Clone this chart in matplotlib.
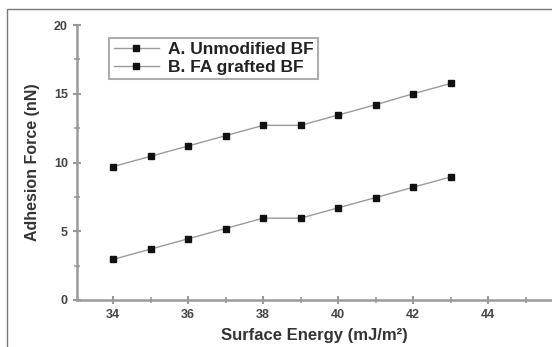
import matplotlib.pyplot as plt
from matplotlib.patches import Rectangle
from matplotlib.ticker import MultipleLocator

plt.rcParams['font.family'] = ['Liberation Sans', 'DejaVu Sans']
plt.rcParams['font.weight'] = 'bold'

# Datos
energia = [34, 35, 36, 37, 38, 39, 40, 41, 42, 43]
fuerza_a = [9.7, 10.45, 11.2, 11.95, 12.7, 12.7, 13.45, 14.2, 15.0, 15.75]
fuerza_b = [2.95, 3.7, 4.45, 5.2, 5.95, 5.95, 6.7, 7.45, 8.2, 8.95]
etiquetas = ["A. Unmodified BF", "B. FA grafted BF"]

fig = plt.figure(figsize=(5.52, 3.47), dpi=100)
ax = fig.add_axes([77 / 552, 47 / 347, 475 / 552, 275 / 347])

gris = "#9a9a9a"
ax.plot(energia, fuerza_a, color=gris, lw=1, marker="s", ms=4,
        mfc="#111111", mec="#111111", label=etiquetas[0])
ax.plot(energia, fuerza_b, color=gris, lw=1, marker="s", ms=4,
        mfc="#111111", mec="#111111", label=etiquetas[1])

ax.set_xlim(33.04, 45.7)
ax.set_ylim(0, 20)
ax.xaxis.set_major_locator(MultipleLocator(2))
ax.xaxis.set_minor_locator(MultipleLocator(1))
ax.yaxis.set_major_locator(MultipleLocator(5))
ax.yaxis.set_minor_locator(MultipleLocator(2.5))

for lado in ["top", "right"]:
    ax.spines[lado].set_visible(False)
for lado in ["left", "bottom"]:
    ax.spines[lado].set_color(gris)
    ax.spines[lado].set_linewidth(1.8)

ax.tick_params(which="major", direction="inout", length=6, width=1.5,
               color=gris, labelsize=9, labelcolor="#444444")
ax.tick_params(which="minor", direction="inout", length=4, width=1.2, color=gris)

ax.set_xlabel("Surface Energy (mJ/m²)", fontsize=12, fontweight="bold",
              color="#333333", labelpad=5)
ax.set_ylabel("Adhesion Force (nN)", fontsize=11.5, fontweight="bold",
              color="#333333", labelpad=10)

leg = ax.legend(loc="upper left", bbox_to_anchor=(0.05, 0.985), fontsize=12.5,
                frameon=True, fancybox=False, handlelength=2.6,
                borderpad=0.25, labelspacing=0.15, handletextpad=0.5)
leg.get_frame().set_edgecolor(gris)
leg.get_frame().set_linewidth(1.5)
for t in leg.get_texts():
    t.set_color("#222222")

# Marco exterior
fig.patches.append(Rectangle((7 / 552, -0.1), 1.2, (347 - 9) / 347 + 0.1,
                             transform=fig.transFigure, fill=False,
                             edgecolor="#777777", lw=1))

fig.savefig("out.png", dpi=100)
